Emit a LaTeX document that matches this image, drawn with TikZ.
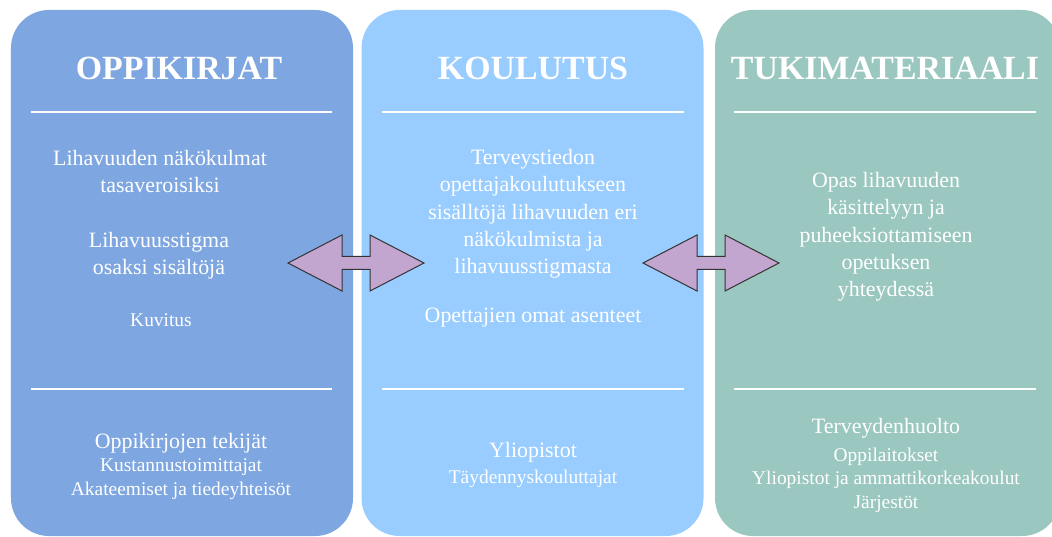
\documentclass[tikz,border=0pt]{standalone}
\usepackage{fontspec}
\setmainfont{Liberation Serif}
\usetikzlibrary{positioning}
\definecolor{oppiblue}{HTML}{7EA6E0}
\definecolor{koulublue}{HTML}{99CCFF}
\definecolor{tukigreen}{HTML}{9AC7BF}
\definecolor{arrowlila}{HTML}{C3A6CF}
\tikzset{panel/.style={rectangle,rounded corners=38bp,draw=none,minimum width=342bp,minimum height=526bp,inner sep=0pt},
         heading/.style={text=white,font=\fontsize{34}{38}\selectfont\bfseries,inner sep=0pt,anchor=base},
         body/.style={text=white,align=center,font=\fontsize{22}{27.5}\selectfont,inner sep=0pt},
         minor/.style={text=white,align=center,font=\fontsize{19.5}{24}\selectfont,inner sep=0pt},
         rule/.style={draw=white,line width=2.5bp},
         twoway/.style={fill=arrowlila,draw=black!80,line width=1bp,line join=miter}
}
\newcommand{\twoarrow}[1]{%
  \draw[twoway,shift={(#1)}] (-68,0) -- (-14,-28) -- (-14,-6.5) -- (14,-6.5) -- (14,-28) -- (68,0)
     -- (14,28) -- (14,6.5) -- (-14,6.5) -- (-14,28) -- cycle;}

\begin{document}
\begin{tikzpicture}[x=1bp,y=-1bp]
\useasboundingbox[fill=white] (0,0) rectangle (1052,537);
\node[panel,fill=oppiblue] (oppi) at (182,273) {};
\node[panel,fill=koulublue] (koul) at (532.5,273) {};
\node[panel,fill=tukigreen,minimum width=345bp] (tuki) at (887.5,273) {};

\node[heading] (oppihead) at (179,80) {OPPIKIRJAT};
\node[heading] (koulhead) at (533,80) {KOULUTUS};
\node[heading] (tukihead) at (885,80) {TUKIMATERIAALI};

\draw[rule] (31,112) -- (332,112);
\draw[rule] (382,112) -- (684,112);
\draw[rule] (734,112) -- (1036,112);
\draw[rule] (31,389) -- (332,389);
\draw[rule] (382,389) -- (684,389);
\draw[rule] (734,389) -- (1036,389);

% oppikirjat
\node[body,anchor=north] (nako) at (160,150) {Lihavuuden näkökulmat\\tasaveroisiksi};
\node[body,anchor=north] (stigma) at (159,232) {Lihavuusstigma\\osaksi sisältöjä};
\node[minor,anchor=base] (kuvitus) at (161,327) {Kuvitus};
\node[body,anchor=base] (tekijat) at (181,448) {Oppikirjojen tekijät};
\node[minor,anchor=north] (kustann) at (181,458.5) {Kustannustoimittajat\\Akateemiset ja tiedeyhteisöt};

% koulutus
\node[body,anchor=north,text depth=0pt] (terveys) at (533,149) {Terveystiedon\\opettajakoulutukseen\\sisälltöjä lihavuuden eri\\näkökulmista ja\\lihavuusstigmasta};
\node[body,anchor=base] (asenteet) at (533,323) {Opettajien omat asenteet};
\node[body,anchor=base] (yliop) at (533,457) {Yliopistot};
\node[minor,anchor=base] (taydenn) at (533,483) {Täydennyskouluttajat};

% tukimateriaali
\node[body,anchor=north] (opas) at (886,172) {Opas lihavuuden\\käsittelyyn ja\\puheeksiottamiseen\\opetuksen\\yhteydessä};
\node[body,anchor=base] (terveyden) at (886,433) {Terveydenhuolto};
\node[minor,anchor=north,font=\fontsize{19.5}{23.5}\selectfont] (oppilait) at (886,447.5) {Oppilaitokset\\Yliopistot ja ammattikorkeakoulut\\Järjestöt};

\coordinate (ab) at (356,263);
\coordinate (bc) at (711,263);
\twoarrow{ab}
\twoarrow{bc}
\end{tikzpicture}
\end{document}
